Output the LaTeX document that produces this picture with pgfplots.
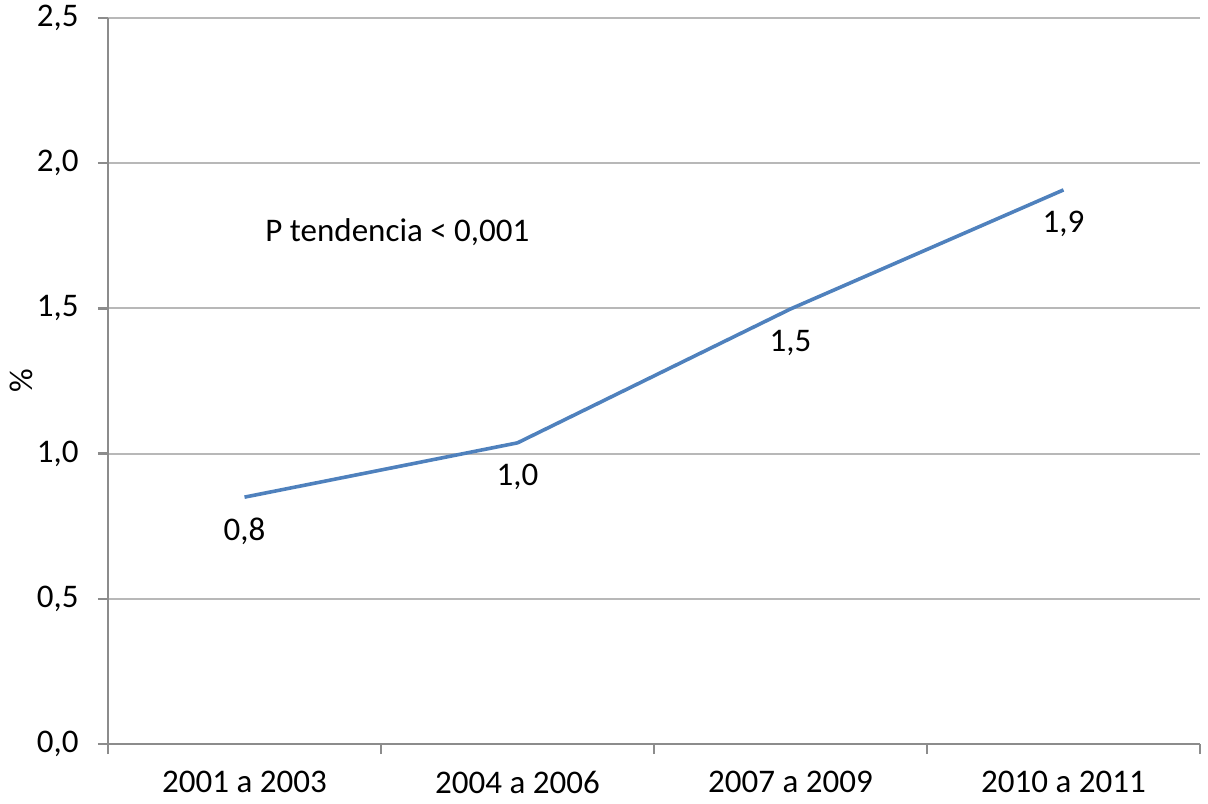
\documentclass[border=0pt]{standalone}
\usepackage{fontspec}
\setmainfont{Carlito}
\usepackage{pgfplots}
\pgfplotsset{compat=1.18}
\definecolor{lineblue}{HTML}{4F81BD}
\definecolor{gridgray}{HTML}{B8B8B8}
\definecolor{axgray}{HTML}{8C8C8C}
\begin{document}
\fontsize{16.5bp}{20bp}\selectfont
\begin{tikzpicture}
\begin{axis}[
  scale only axis,
  width=546bp, height=363bp,
  xmin=0, xmax=4, ymin=0, ymax=2.5,
  axis lines=left,
  axis line style={-, draw=axgray, line width=1.2bp},
  xtick={0.5,1.5,2.5,3.5},
  xticklabels={2001 a 2003, 2004 a 2006, 2007 a 2009, 2010 a 2011},
  minor xtick={0,1,2,3,4},
  ytick={0,0.5,1,1.5,2,2.5},
  yticklabels={{0,0},{0,5},{1,0},{1,5},{2,0},{2,5}},
  tick align=outside,
  x tick style={draw=none},
  minor x tick style={draw=axgray, line width=1.2bp},
  minor tick length=5bp,
  y tick style={draw=axgray, line width=1.2bp},
  major tick length=5bp,
  ymajorgrids,
  grid style={draw=gridgray, line width=1bp},
  tick label style={font=\fontsize{16.5bp}{20bp}\selectfont},
  xticklabel style={yshift=-3bp},
  yticklabel style={xshift=-4bp},
  ylabel={\%},
  ylabel style={font=\fontsize{16.5bp}{20bp}\selectfont, anchor=center, at={(axis description cs:-0.079,0.5)}},
  clip=false,
]
\addplot[color=lineblue, line width=1.8bp,
  nodes near coords,
  point meta=explicit symbolic,
  every node near coord/.append style={anchor=north, yshift=-4bp, text=black, font=\fontsize{16.5bp}{20bp}\selectfont},
] table[meta=lab] {
x y lab
0.5 0.85 {0,8}
1.5 1.037 {1,0}
2.5 1.498 {1,5}
3.5 1.908 {1,9}
};
\node[anchor=west, font=\fontsize{16.5bp}{20bp}\selectfont] at (axis cs:0.535,1.763) {P tendencia < 0,001};
\coordinate (bl) at (rel axis cs:0,0);
\coordinate (tr) at (rel axis cs:1,1);
\end{axis}
\pgfresetboundingbox
\useasboundingbox ([shift={(-54bp,-30bp)}]bl) rectangle ([shift={(4bp,9bp)}]tr);
\end{tikzpicture}
\end{document}
